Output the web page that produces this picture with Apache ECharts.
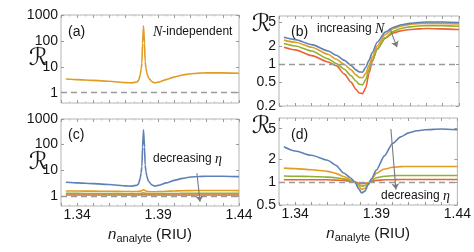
<!DOCTYPE html>
<html><head><meta charset="utf-8">
<script src="https://cdn.jsdelivr.net/npm/echarts@6/dist/echarts.min.js"></script>
<style>html,body{margin:0;padding:0;background:#fff}#c{width:474px;height:252px}</style>
</head><body><div id="c"></div>
<script>
// ---- data ----
const xTickLabels = [1.34, 1.39, 1.44];
const yTicksAC = [1, 10, 100, 1000];
const yTicksB = [0.2, 0.5, 1, 2, 5];
const yTicksD = [0.5, 1, 2, 5];

// panels (a) and (c): n_analyte grid around the resonance peak
const xPeak = [1.333,1.34,1.35,1.36,1.37,1.374,1.377,1.378,1.379,1.3795,1.38,1.3804,1.381,1.3816,1.382,1.3825,1.383,1.384,1.386,1.388,1.39,1.395,1.40,1.405,1.41,1.415,1.42,1.43,1.44];
const aOrange = [3.4,3.2,3.0,2.75,2.45,2.4,2.6,3.0,5,8,14,80,380,80,16,9,6,3.8,2.7,2.4,2.55,3.2,4.0,4.8,5.4,5.7,5.8,5.8,5.6];
const cBlue   = [3.4,3.2,3.0,2.75,2.45,2.4,2.6,3.0,5,8,14,80,380,80,16,9,6,3.8,2.7,2.4,2.55,3.2,4.0,4.8,5.4,5.7,5.8,5.8,5.6];
const cOrange = [1.55,1.54,1.52,1.5,1.47,1.46,1.47,1.49,1.52,1.55,1.6,1.66,1.7,1.66,1.6,1.55,1.5,1.46,1.44,1.44,1.46,1.5,1.55,1.58,1.6,1.61,1.61,1.61,1.6];
const cGreen  = [1.24,1.24,1.23,1.22,1.21,1.2,1.21,1.22,1.23,1.25,1.27,1.29,1.3,1.29,1.27,1.25,1.23,1.21,1.2,1.2,1.21,1.22,1.23,1.24,1.24,1.25,1.25,1.25,1.24];
const cRed    = [1.08,1.08,1.08,1.07,1.07,1.07,1.07,1.07,1.08,1.08,1.09,1.1,1.1,1.1,1.09,1.08,1.08,1.07,1.07,1.07,1.07,1.07,1.08,1.08,1.08,1.08,1.08,1.08,1.08];

// panels (b) and (d): n_analyte grid around the dip
const xDip = [1.333,1.34,1.35,1.36,1.365,1.37,1.374,1.377,1.379,1.381,1.383,1.385,1.387,1.39,1.395,1.40,1.405,1.41,1.415,1.42,1.43,1.44];
const bBlue   = [2.78,2.55,2.1,1.65,1.4,1.15,0.95,0.8,0.74,0.73,0.88,1.15,1.55,2.3,3.4,4.1,4.5,4.75,4.9,5.0,5.0,4.9];
const bOrange = [2.5,2.3,1.9,1.45,1.2,0.98,0.8,0.66,0.6,0.59,0.7,0.95,1.3,2.0,3.1,3.9,4.3,4.55,4.7,4.75,4.75,4.65];
const bGreen  = [2.2,2.0,1.65,1.22,1.02,0.82,0.64,0.52,0.46,0.45,0.55,0.82,1.15,1.75,2.75,3.5,3.95,4.15,4.3,4.35,4.35,4.25];
const bRed    = [1.9,1.72,1.38,1.08,0.94,0.68,0.5,0.38,0.33,0.32,0.4,0.7,1.1,1.8,2.7,3.3,3.6,3.75,3.85,3.9,3.85,3.75];
const dBlue   = [2.9,2.55,2.24,1.93,1.66,1.31,1.14,0.99,0.82,0.72,0.76,0.92,1.1,1.43,2.2,3.2,3.9,4.4,4.7,4.85,4.95,4.85];
const dOrange = [1.52,1.5,1.45,1.38,1.3,1.18,1.07,0.99,0.88,0.8,0.83,0.93,1.08,1.3,1.48,1.56,1.59,1.6,1.6,1.6,1.6,1.6];
const dGreen  = [1.2,1.19,1.18,1.16,1.14,1.1,1.05,1.0,0.93,0.88,0.9,0.96,1.05,1.14,1.19,1.21,1.22,1.22,1.22,1.22,1.22,1.22];
const dRed    = [1.07,1.07,1.07,1.07,1.06,1.05,1.02,1.0,0.97,0.95,0.96,0.98,1.02,1.05,1.07,1.07,1.08,1.08,1.08,1.08,1.08,1.08];

// ---- styling ----
const FONT = 'Liberation Sans, Arial, Helvetica, sans-serif';
const SERIF = 'Liberation Serif, Times New Roman, serif';
const RFONT = 'DejaVu Serif, DejaVu Sans';
const C = {blue:'#5e81b5', orange:'#e19c24', green:'#8fb032', red:'#eb6235'};
const zip = (xs, ys) => xs.map((x, i) => [x, ys[i]]);

const grids = [
  {left:61, top:15, width:178, height:88},
  {left:279, top:16, width:180, height:90},
  {left:61, top:119, width:178, height:87},
  {left:279, top:118, width:180, height:87}
].map(g => Object.assign({show:true, borderColor:'#b4b4b4', borderWidth:1, backgroundColor:'transparent'}, g));

const yCfg = [
  {min:0.4, max:1000, ticks:yTicksAC, nameMode:'middle'},
  {min:0.2, max:6.3, ticks:yTicksB, nameMode:'end'},
  {min:0.4, max:1000, ticks:yTicksAC, nameMode:'middle'},
  {min:0.5, max:6.9, ticks:yTicksD, nameMode:'end'}
];

const xAxes = [], yAxes = [];
for (let side = 0; side < 2; side++) {
  for (let i = 0; i < 4; i++) {
    const bottomLabels = side === 0 && (i === 2 || i === 3);
    const ax = {
      gridIndex:i, type:'value', min:1.33, max:1.44, interval:0.01,
      position: side === 0 ? 'bottom' : 'top',
      axisLine:{show:false}, splitLine:{show:false},
      axisTick:{show:true, inside:true, length:3, lineStyle:{color:'#9a9a9a'}},
      minorTick:{show:true, splitNumber:2, length:1.5, lineStyle:{color:'#bdbdbd'}},
      axisLabel:{show:bottomLabels, customValues:xTickLabels, formatter:v => v.toFixed(2),
        fontSize:14, fontFamily:FONT, color:'#151515', margin:2}
    };
    if (bottomLabels) {
      ax.name = '{n|n}{s|analyte} (RIU)';
      ax.nameLocation = 'middle';
      ax.nameGap = 19;
      ax.nameMoveOverlap = false;
      ax.nameTextStyle = {fontSize:15, fontFamily:FONT, color:'#151515',
        rich:{n:{fontSize:15, fontStyle:'italic', fontFamily:FONT, color:'#151515'},
              s:{fontSize:11, fontFamily:FONT, color:'#151515', padding:[8,0,0,0]}}};
    }
    xAxes.push(ax);

    const yc = yCfg[i];
    const yax = {
      gridIndex:i, type:'log', logBase:10, min:yc.min, max:yc.max,
      position: side === 0 ? 'left' : 'right',
      axisLine:{show:false}, splitLine:{show:false},
      axisTick:{show:true, inside:true, length:3, customValues:yc.ticks, lineStyle:{color:'#9a9a9a'}},
      axisLabel:{show:side === 0, customValues:yc.ticks, fontSize:14, fontFamily:FONT, color:'#151515', margin:3,
        formatter:v => String(+v.toPrecision(3))}
    };
    if (side === 0) {
      yax.name = 'ℛ';
      yax.nameRotate = 0;
      yax.nameMoveOverlap = false;
      if (yc.nameMode === 'middle') {
        yax.nameLocation = 'middle';
        yax.nameGap = 13;
        yax.nameTextStyle = {fontSize:24, fontFamily:RFONT, color:'#151515'};
      } else {
        yax.nameLocation = 'end';
        yax.nameGap = -9;
        yax.nameTextStyle = {fontSize:24, fontFamily:RFONT, color:'#151515',
          align:'right', verticalAlign:'middle', padding:[0,8,0,0]};
      }
    }
    yAxes.push(yax);
  }
}

const dashed = {yAxis:1, symbol:'none', lineStyle:{type:[6,4], color:'#9a9a9a', width:1.4}, label:{show:false}};
function arrow(from, to, curv) {
  return [
    {coord:from, symbol:'none', lineStyle:{type:'solid', color:'#7a7a7a', width:1.1, curveness:curv}},
    {coord:to, symbol:'arrow', symbolSize:6, lineStyle:{type:'solid', color:'#7a7a7a', width:1.1, curveness:curv}}
  ];
}
function line(gi, xs, ys, color, extra) {
  return Object.assign({
    type:'line', xAxisIndex:gi, yAxisIndex:gi, data:zip(xs, ys), showSymbol:false,
    smooth:0.25, smoothMonotone:'x', lineStyle:{color, width:1.6}, itemStyle:{color}, silent:true
  }, extra || {});
}
function marks(data) {
  return {markLine:{silent:true, symbol:['none','none'], animation:false, label:{show:false}, data}};
}

const series = [
  // (a)
  line(0, xPeak, aOrange, C.orange, Object.assign(marks([dashed]), {smooth:0.12})),
  // (b)
  line(1, xDip, bRed, C.red, marks([dashed, arrow([1.3977, 3.93], [1.4021, 1.91], -0.3)])),
  line(1, xDip, bGreen, C.green),
  line(1, xDip, bOrange, C.orange),
  line(1, xDip, bBlue, C.blue),
  // (c)
  line(2, xPeak, cRed, C.red, Object.assign(marks([dashed, arrow([1.414, 7.6], [1.4159, 0.59], -0.35)]), {smooth:0.12})),
  line(2, xPeak, cGreen, C.green, {smooth:0.12}),
  line(2, xPeak, cOrange, C.orange, {smooth:0.12}),
  line(2, xPeak, cBlue, C.blue, {smooth:0.12}),
  // (d)
  line(3, xDip, dRed, C.red, marks([dashed, arrow([1.399, 4.94], [1.4021, 0.8], -0.25)])),
  line(3, xDip, dGreen, C.green),
  line(3, xDip, dOrange, C.orange),
  line(3, xDip, dBlue, C.blue)
];

function txt(text, x, y, size, rich) {
  return {type:'text', silent:true, z:100, style:{text, x, y, fontSize:size, fontFamily:FONT, fill:'#151515',
    align:'left', verticalAlign:'middle', rich:rich || undefined}};
}
const itRich = {it:{fontFamily:SERIF, fontStyle:'italic', fontSize:14, fill:'#151515'}};
const graphic = [
  txt('(a)', 68, 32, 14), txt('(b)', 291, 32, 14), txt('(c)', 68, 135, 14), txt('(d)', 291, 135, 14),
  txt('{it|N}-independent', 153, 32, 12, itRich),
  txt('increasing {it|N}', 317, 29, 12, itRich),
  txt('decreasing {it|η}', 153, 159, 12, itRich),
  txt('decreasing {it|η}', 381, 196, 12, itRich)
];

const chart = echarts.init(document.getElementById('c'), null, {renderer:'canvas'});
chart.setOption({animation:false, grid:grids, xAxis:xAxes, yAxis:yAxes, series, graphic});
</script></body></html>
